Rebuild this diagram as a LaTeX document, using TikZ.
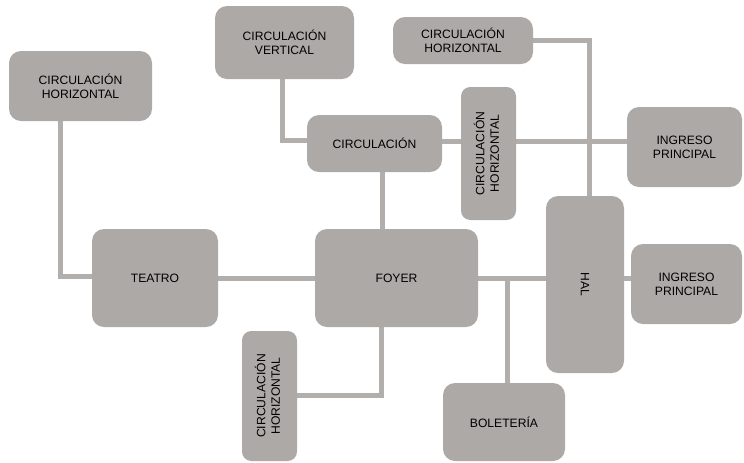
\documentclass[tikz,border=0pt]{standalone}
\usepackage{fontspec}
\setmainfont{Liberation Sans}
\usepackage{graphicx}
\usetikzlibrary{calc, backgrounds}
\definecolor{blkfill}{RGB}{173, 169, 167}
\definecolor{connfill}{RGB}{178, 174, 172}
\newcommand{\blkfont}{\fontsize{9.1}{10.7}\selectfont}
\newcommand{\vtext}[1]{\rotatebox{90}{\begin{tabular}{@{}c@{}}#1\end{tabular}}}
\newcommand{\htext}[1]{\rotatebox{-90}{#1}}
\tikzset{
  % boxes of the programme (all the same grey, text centred)
  blk/.style={
    rounded corners=9pt, fill=blkfill, inner sep=0pt,
    align=center, font=\blkfont, text=black
  },
  blkS/.style={blk, rounded corners=7pt},   % narrow upright boxes
  %
  % thick grey connectors, always drawn behind the boxes
  conn/.style={draw=connfill, line width=3.75pt},
}

\begin{document}
\begin{tikzpicture}[x=0.75pt, y=-0.75pt]
  \useasboundingbox (0,0) rectangle (744,462);

  %% ── Boxes ─────────────────────────────────────────────────────────────────
  \node[blk, minimum width=107.25pt, minimum height=52.5pt]  (chLeft) at (80.5, 86)    {CIRCULACIÓN\\HORIZONTAL};
  \node[blk, minimum width=104.25pt, minimum height=54.75pt] (cVert)  at (284.5, 42.5) {CIRCULACIÓN\\VERTICAL};
  \node[blk, minimum width=101.25pt, minimum height=42.75pt] (circ)   at (374.5, 143.5) {CIRCULACIÓN};
  \node[blk, minimum width=105pt,    minimum height=35.25pt] (chTop)  at (463, 40.5)   {CIRCULACIÓN\\HORIZONTAL};
  \node[blkS, minimum width=41.25pt, minimum height=99.75pt] (chMid)  at (488.5, 153.5) {\vtext{CIRCULACIÓN\\HORIZONTAL}};
  \node[blk, minimum width=86.25pt,  minimum height=60pt]    (ingTop) at (684.5, 147)  {INGRESO\\PRINCIPAL};

  \node[blk, minimum width=94.5pt,   minimum height=73.5pt]  (teatro) at (155, 278)    {TEATRO};
  \node[blk, minimum width=122.25pt, minimum height=73.5pt]  (foyer)  at (396.5, 278)  {FOYER};
  \node[blk, minimum width=58.5pt,   minimum height=132.75pt] (hal)   at (585, 284.5)  {\htext{HAL}};
  \node[blk, minimum width=83.25pt,  minimum height=60pt]    (ingBot) at (686.5, 284)  {INGRESO\\PRINCIPAL};

  \node[blkS, minimum width=41.25pt, minimum height=97.5pt]  (chBot)  at (269.5, 396)  {\vtext{CIRCULACIÓN\\HORIZONTAL}};
  \node[blk, minimum width=91.5pt,   minimum height=58.5pt]  (bolet)  at (504, 422)    {BOLETERÍA};

  %% ── Helper points on the box edges ────────────────────────────────────────
  \coordinate (midR)   at ($(circ.east)+(0,-2.5)$);
  \coordinate (circS)  at ($(circ.south)+(8,0)$);
  \coordinate (boletN) at ($(bolet.north)+(3,0)$);

  %% ── Connectors ────────────────────────────────────────────────────────────
  \begin{scope}[on background layer]
    \draw[conn] ($(chLeft.south)+(-20,0)$) |- ($(teatro.west)+(0,-2)$);
    \draw[conn] ($(cVert.south)+(-2,0)$) |- ($(circ.west)+(0,-3)$);
    \draw[conn] (midR) -- (midR -| ingTop.west);
    \draw[conn] (chTop.east) -| ($(hal.north)+(4.5,0)$);
    \draw[conn] (circS) -- (circS |- foyer.north);
    \draw[conn] (teatro.east) -- (foyer.west);
    \draw[conn] (foyer.east) -- (foyer.east -| ingBot.west);
    \draw[conn] (boletN) -- (boletN |- foyer.east);
    \draw[conn] ($(foyer.south)+(-15,0)$) |- ($(chBot.east)+(0,-1)$);
  \end{scope}

\end{tikzpicture}
\end{document}
